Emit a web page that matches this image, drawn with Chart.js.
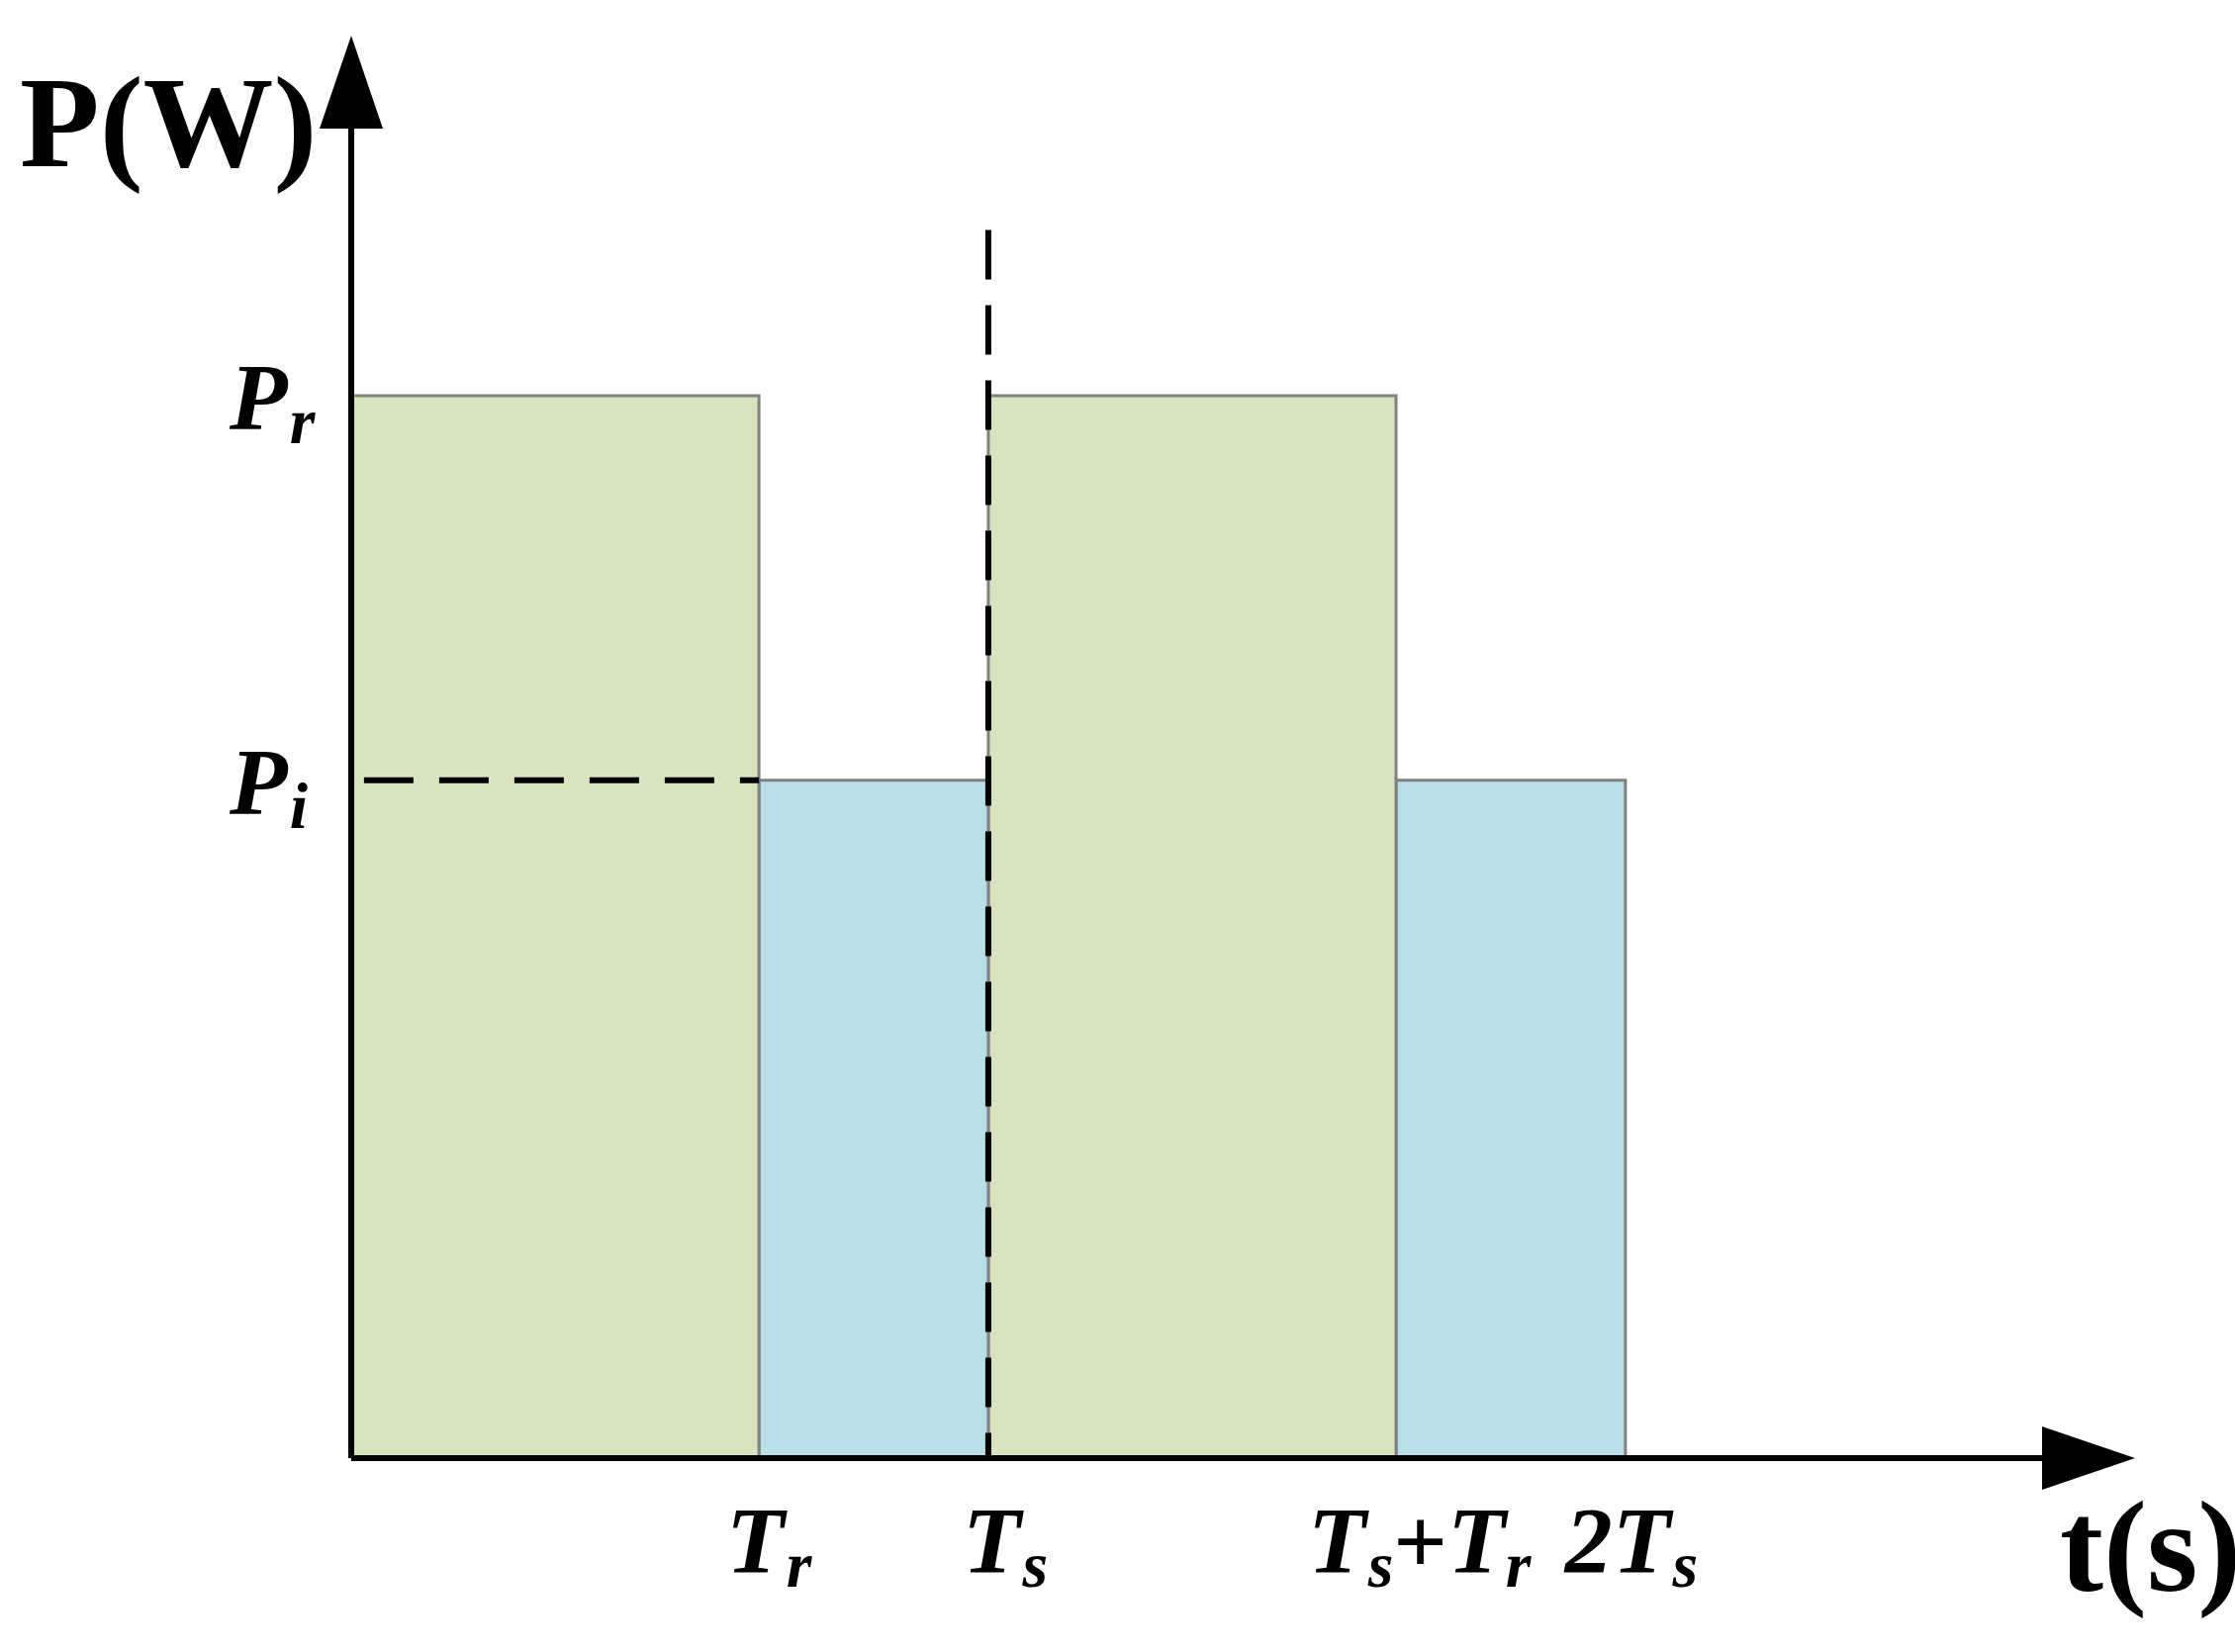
<!DOCTYPE html>
<html><head><meta charset="utf-8">
<script src="https://cdn.jsdelivr.net/npm/chart.js@4"></script>
<style>html,body{margin:0;padding:0;background:#fff}#c{display:block}</style>
</head><body>
<div style="width:2259px;height:1670px"><canvas id="c"></canvas></div>
<script>
// Data (normalised: Ts = 1, Pr = 1)
const Tr = 0.64, Ts = 1.0;
const Pr = 1.0, Pi = 0.638;
const rectStarts = [0, Tr, Ts, Ts + Tr];
const rectEnds   = [Tr, Ts, Ts + Tr, 2 * Ts];
const rectPowers = [Pr, Pi, Pr, Pi];
const xTickValues = [Tr, Ts, Ts + Tr, 2 * Ts];
const xTickLabels = [["T","r"], ["T","s"], ["T","s","+T","r"], ["2T","s"]];
const yTickValues = [Pr, Pi];
const yTickLabels = [["P","r"], ["P","i"]];
const dashTopY = 1.156;

const fills = ['#d8e4bf', '#b8dee8', '#d8e4bf', '#b8dee8'];
const datasets = rectStarts.map((s, i) => ({
  data: [{x:s,y:0},{x:s,y:rectPowers[i]},{x:rectEnds[i],y:rectPowers[i]},{x:rectEnds[i],y:0}],
  borderColor:'#808080', borderWidth:3, backgroundColor:fills[i], fill:'origin',
  pointRadius:0, tension:0, order:2
}));
datasets.push({data:[{x:0.02,y:Pi},{x:Tr,y:Pi}], borderColor:'#000', borderWidth:6,
  borderDash:[50,26], fill:false, pointRadius:0, order:1});
datasets.push({data:[{x:Ts,y:dashTopY},{x:Ts,y:0}], borderColor:'#000', borderWidth:6,
  borderDash:[50,26], fill:false, pointRadius:0, order:1});

function drawSub(ctx, x, y, parts, big, small) {
  // parts: alternating main, sub
  let cx = x;
  parts.forEach((p, k) => {
    const isSub = k % 2 === 1;
    ctx.font = 'italic bold ' + (isSub ? small : big) + 'px "Liberation Serif"';
    if (p.startsWith('+')) { ctx.font = 'bold ' + big + 'px "Liberation Serif"'; }
    const yy = isSub ? y + 14 : y;
    if (p.startsWith('+')) {
      ctx.fillText('+', cx, y); cx += ctx.measureText('+').width;
      ctx.font = 'italic bold ' + big + 'px "Liberation Serif"';
      ctx.fillText(p.slice(1), cx, y); cx += ctx.measureText(p.slice(1)).width;
    } else {
      ctx.fillText(p, cx, yy); cx += ctx.measureText(p).width + (isSub ? 0 : 2);
    }
  });
}

const overlay = {
  id:'overlay',
  afterDraw(chart) {
    const ctx = chart.ctx, xs = chart.scales.x, ys = chart.scales.y;
    const x0 = xs.getPixelForValue(0), y0 = ys.getPixelForValue(0);
    const ca = chart.chartArea;
    ctx.save();
    ctx.fillStyle = '#000'; ctx.strokeStyle = '#000'; ctx.lineWidth = 6;
    ctx.beginPath(); ctx.moveTo(x0, y0); ctx.lineTo(ca.right - 80, y0);
    ctx.moveTo(x0, y0); ctx.lineTo(x0, ca.top + 80); ctx.stroke();
    ctx.beginPath(); ctx.moveTo(ca.right, y0); ctx.lineTo(ca.right - 94, y0 - 32); ctx.lineTo(ca.right - 94, y0 + 32); ctx.fill();
    ctx.beginPath(); ctx.moveTo(x0, ca.top); ctx.lineTo(x0 - 32, ca.top + 94); ctx.lineTo(x0 + 32, ca.top + 94); ctx.fill();
    ctx.textBaseline = 'alphabetic';
    ctx.font = 'bold 132px "Liberation Serif"';
    ctx.fillText('P(W)', 20, 168);
    ctx.fillText('t(s)', 2082, 1608);
    const xOff = [-33, -26, -89, -61];
    xTickValues.forEach((v, i) => drawSub(ctx, xs.getPixelForValue(v) + xOff[i], 1590, xTickLabels[i], 96, 66));
    yTickValues.forEach((v, i) => drawSub(ctx, 232, ys.getPixelForValue(v) + 34, yTickLabels[i], 96, 66));
    ctx.restore();
  }
};

new Chart(document.getElementById('c'), {
  type:'line',
  data:{datasets},
  options:{
    responsive:true, maintainAspectRatio:false, animation:false,
    layout:{padding:{left:355, right:101, top:36, bottom:196}},
    plugins:{legend:{display:false}, tooltip:{enabled:false}},
    scales:{
      x:{type:'linear', min:0, max:2.8, display:false},
      y:{type:'linear', min:0, max:1.339, display:false}
    }
  },
  plugins:[overlay]
});
</script>
</body></html>
